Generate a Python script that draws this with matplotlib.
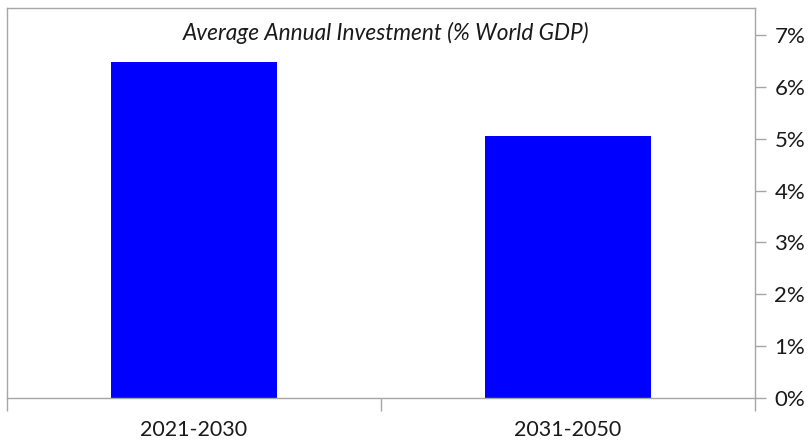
import matplotlib
matplotlib.use("Agg")
import matplotlib.pyplot as plt
from matplotlib.ticker import FixedLocator, PercentFormatter

periods = ["2021-2030", "2031-2050"]
investment_pct = [6.48, 5.05]
y_ticks = [0, 1, 2, 3, 4, 5, 6, 7]

plt.rcParams['font.family'] = ['Lato', 'DejaVu Sans']

fig = plt.figure(figsize=(8.12, 4.41), dpi=100)
ax = fig.add_axes([7/812, 43/441, 748/812, 390/441])

x = list(range(len(periods)))
ax.bar(x, investment_pct, width=0.445, color="#0000ff", zorder=2)

ax.set_xlim(-0.5, len(periods) - 0.5)
ax.set_ylim(0, 7.52)

grey = "#a6a6a6"
for side in ["left", "top", "right", "bottom"]:
    ax.spines[side].set_color(grey)
    ax.spines[side].set_linewidth(1.0)

ax.yaxis.tick_right()
ax.set_yticks(y_ticks)
ax.yaxis.set_major_formatter(PercentFormatter(decimals=0))
ax.tick_params(axis="y", which="major", direction="out", length=8, width=1,
               color=grey, labelsize=16, labelcolor="#1a1a1a", pad=6)

ax.set_xticks(x)
ax.set_xticklabels(periods)
ax.xaxis.set_minor_locator(FixedLocator([-0.5 + i for i in range(len(periods) + 1)]))
ax.tick_params(axis="x", which="major", length=0, labelsize=15.5,
               labelcolor="#1a1a1a", pad=16)
ax.tick_params(axis="x", which="minor", direction="out", length=9, width=1, color=grey)

ax.text(0.507, 0.935, "Average Annual Investment (% World GDP)", transform=ax.transAxes,
        ha="center", va="center", fontsize=16.3, style="italic", color="#1a1a1a")

fig.savefig("out.png", dpi=100)
